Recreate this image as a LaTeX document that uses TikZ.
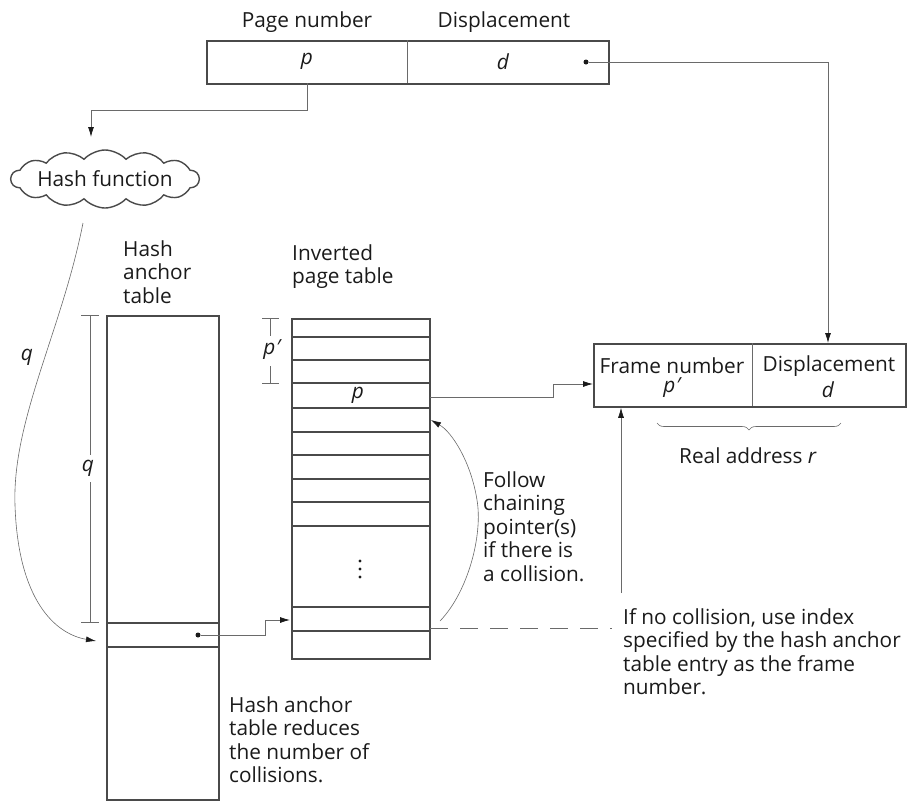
\documentclass[tikz,border=0pt]{standalone}
\usepackage{fontspec}
\setmainfont{Open Sans}
\usetikzlibrary{arrows.meta,shapes.symbols,decorations.pathreplacing}
\definecolor{tblgray}{HTML}{4A4A4A}
\definecolor{conngray}{HTML}{6A6A6A}
\definecolor{txt}{HTML}{1A1A1A}
\begin{document}
\begin{tikzpicture}[x=1pt,y=-1pt,
  tbl/.style={draw=tblgray, line width=1.8pt},
  rowline/.style={draw=tblgray, line width=1.6pt},
  thin/.style={draw=conngray, line width=0.6pt},
  conn/.style={draw=conngray, line width=0.8pt},
  arr/.style={-{Latex[length=10pt,width=6pt,color=txt]}},
  lbl/.style={font=\fontsize{20.8}{23.6}\selectfont, text=txt, inner sep=0pt, align=left},
  box/.style={tbl, inner sep=0pt, anchor=north west},
  dotm/.style={circle, fill=txt, inner sep=0pt, minimum size=5pt}
]
\useasboundingbox (0,0) rectangle (914,807);

% ---- virtual address box
\node[box, minimum width=402pt, minimum height=43pt] (va) at (206,40) {};
\draw[thin] (407,40) -- (407,83);
\node[lbl] (pn) at (307,22) {Page number};
\node[lbl] (dn) at (504,22) {Displacement};
\node[lbl] (vp) at (307,61) {\itshape p};
\node[lbl] (vd) at (503,62) {\itshape d};
\node[dotm] (dot1) at (586,62) {};

% ---- hash function
\node[cloud, draw=tblgray, line width=1.4pt, cloud puffs=14, cloud puff arc=95, aspect=3.4,
      minimum width=188pt, minimum height=58pt, inner sep=0pt] (hf) at (105,179) {};
\node[lbl] (hft) at (hf.center) {Hash function};
\coordinate (pbot) at (307,83);
\coordinate (pturn) at (91,110);
\coordinate (hftip) at (91,137);
\draw[conn,arr] (pbot) |- (pturn) -- (hftip);

% ---- hash anchor table
\node[lbl, anchor=north west] (hatl) at (123,240) {Hash\\anchor\\table};
\node[box, minimum width=112pt, minimum height=484pt] (hat) at (106,315) {};
\draw[rowline] (106,623) -- (218,623);
\draw[rowline] (106,647) -- (218,647);
\node[dotm] (dot2) at (198,635) {};
% q dimension
\draw[thin] (90,315) -- (90,455) (90,482) -- (90,622);
\draw[thin] (81,315) -- (99,315) (81,622) -- (99,622);
\node[lbl] (qin) at (88,468) {\itshape q};

% ---- inverted page table
\node[lbl, anchor=north west] (iptl) at (292,244) {Inverted\\page table};
\node[box, minimum width=138pt, minimum height=340pt] (ipt) at (291,318) {};
\foreach \yy in {337,360,383,408,432,455,479,502,526,607,631}
  \draw[rowline] (291,\yy) -- (429,\yy);
\node[lbl] (ip) at (358,395) {\itshape p};
\node[dotm, minimum size=3.2pt] (e1) at (360,561) {};
\node[dotm, minimum size=3.2pt] (e2) at (360,569) {};
\node[dotm, minimum size=3.2pt] (e3) at (360,577) {};
% p' dimension
\draw[thin] (270,318) -- (270,336) (270,366) -- (270,383);
\draw[thin] (262,318) -- (279,318) (262,383) -- (279,383);
\node[lbl] (pp) at (272,350) {\itshape p\kern0.5pt\char"2032};

% ---- frame (real address) box
\node[box, minimum width=312pt, minimum height=63pt] (fa) at (593,343) {};
\draw[thin] (752,343) -- (752,406);
\node[lbl] (fn) at (672,366) {Frame number};
\node[lbl] (fp) at (672,388) {\itshape p\kern0.5pt\char"2032};
\node[lbl] (fdn) at (829,366) {Displacement};
\node[lbl] (fd) at (828,390) {\itshape d};
\draw[thin, decorate, decoration={brace, mirror, amplitude=7pt}] (657,423) -- (841,423);
\node[lbl] (ra) at (748,456) {Real address \textit{r}};

% ---- connectors
\coordinate (c1) at (828,62);
\draw[conn,arr] (dot1) -- (c1) -- (c1 |- fa.north);

% hash function -> anchor table (q)
\coordinate (qs) at (83,223);
\coordinate (qe) at (96,641);
\draw[thin,arr] (qs) .. controls (62,330) and (12,420) .. (15,505)
   .. controls (18,600) and (55,634) .. (qe);
\node[lbl] (qout) at (27,357) {\itshape q};

% anchor entry -> inverted table
\coordinate (ae) at (290,620);
\draw[conn,arr] (dot2) -- (265,635) -- (265,620) -- (ae);

% inverted row p -> frame number
\coordinate (ps) at (430,397);
\draw[conn,arr] (ps) -- (553,397) -- (553,384) -- (593,384);

% chaining
\coordinate (chs) at (440,621);
\coordinate (che) at (431,420);
\draw[thin,arr] (chs) .. controls (468,592) and (483,535) .. (477,500)
   .. controls (471,462) and (452,432) .. (che);
\node[lbl, anchor=north west] (chl) at (483,471) {Follow\\chaining\\pointer(s)\\if there is\\a collision.};

% no collision
\coordinate (ncs) at (430,628);
\coordinate (nce) at (612,628);
\draw[thin, dash pattern=on 18pt off 12pt] (ncs) -- (nce);
\coordinate (ncv) at (621,593);
\draw[thin,arr] (ncv) -- (ncv |- fa.south);
\node[lbl, anchor=north west] (ncl) at (623,608) {If no collision, use index\\specified by the hash anchor\\table entry as the frame\\number.};

\node[lbl, anchor=north west] (hal) at (229,696) {Hash anchor\\table reduces\\the number of\\collisions.};
\end{tikzpicture}
\end{document}
